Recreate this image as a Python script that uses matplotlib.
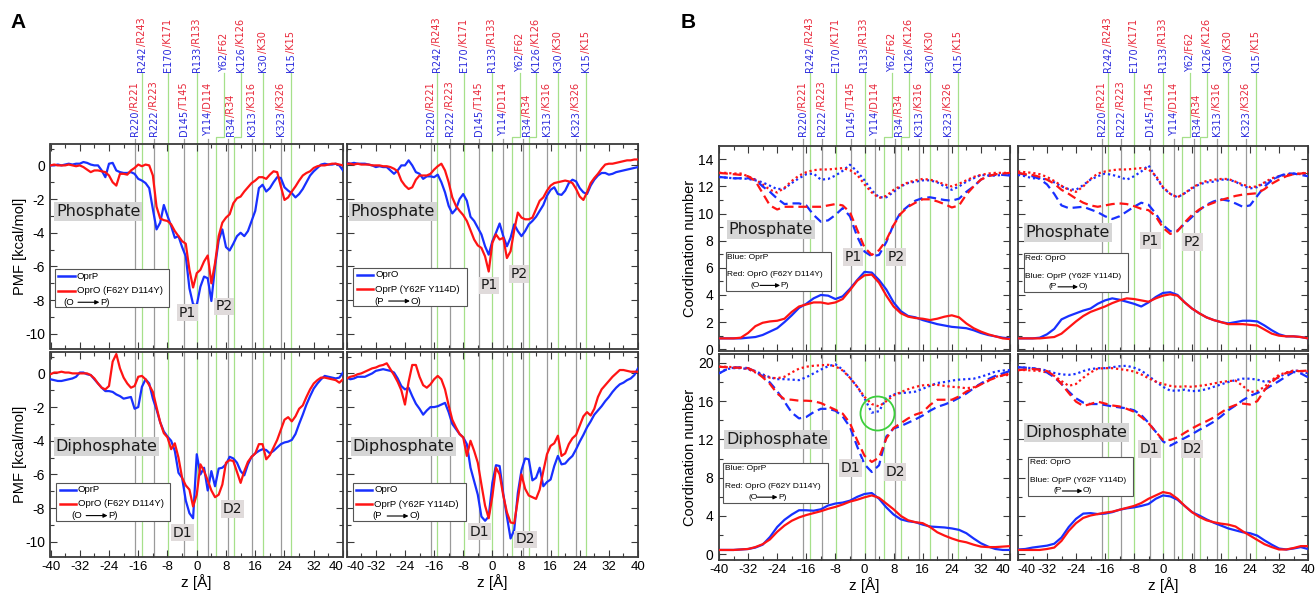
import matplotlib as mpl

mpl.use("Agg")

import matplotlib.pyplot as plt
import numpy as np
from matplotlib.patches import Rectangle
from matplotlib.ticker import MultipleLocator
from matplotlib.transforms import blended_transform_factory

FIG_W, FIG_H = 1315, 594

BLUE = "#1830ff"
RED = "#ff1414"
LABEL_BLUE = "#2b2bdd"
LABEL_RED = "#e8283a"
GREY_LINE = "#9a9a9a"
GREEN_LINE = "#a6e08a"

Z_PMF = np.arange(-40, 41, 1)
Z_CN = np.arange(-40, 41, 2)

GREY_Z = [-16.9, -11.6, -3.6, 3.0, 8.5, 15.0, 23.0]
GREY_LABEL_Z = [-16.9, -11.6, -3.6, 3.0, 9.4, 15.0, 23.0]
GREY_NAMES = ["R220/R221", "R222/R223", "D145/T145", "Y114/D114", "R34/R34", "K313/K316", "K323/K326"]
GREEN_Z = [-15.1, -7.9, 0.0, 5.3, 10.1, 18.0, 25.7]
GREEN_LABEL_Z = [-15.1, -7.9, 0.0, 7.5, 12.1, 18.0, 25.7]
GREEN_NAMES = ["R242/R243", "E170/K171", "R133/R133", "Y62/F62", "K126/K126", "K30/K30", "K15/K15"]

# ---- panel A: PMF [kcal/mol], z = -40..40 step 1
PMF_AL_TOP_BLUE = [
    0.0, 0.0, 0.05, 0.0, 0.05, 0.1, 0.05, 0.1, 0.1, 0.2, 0.15, 0.05, 0.0, 0.0,
    -0.3, -0.7, 0.1, 0.15, -0.3, -0.4, -0.45, -0.45, -0.4, -0.5, -0.8, -0.9, -1.05, -1.35,
    -2.6, -3.8, -3.4, -2.35, -3.0, -3.6, -4.3, -4.2, -4.85, -5.4, -7.3, -8.25, -8.3, -7.2,
    -6.6, -6.7, -8.05, -6.0, -4.45, -3.8, -4.85, -5.05, -4.65, -4.2, -4.0, -4.2, -3.9, -3.3,
    -2.7, -1.35, -1.15, -1.55, -1.35, -1.0, -0.7, -0.75, -1.3, -1.5, -1.65, -1.9, -1.7, -1.4,
    -1.0, -0.6, -0.35, -0.15, 0.05, 0.1, 0.05, 0.05, 0.1, 0.0, -0.3,
]
PMF_AL_TOP_RED = [
    0.0, 0.05, 0.0, 0.0, 0.0, 0.05, 0.0, -0.05, 0.0, -0.1, -0.25, -0.4, -0.3, -0.3,
    -0.35, -0.4, -0.6, -1.0, -1.2, -0.5, -0.5, -0.55, -0.3, -0.15, 0.05, -0.05, 0.05, 0.0,
    -0.6, -2.45, -3.15, -3.25, -3.3, -3.5, -3.9, -4.2, -4.5, -4.65, -6.2, -7.25, -6.4, -6.2,
    -5.7, -5.35, -7.0, -5.8, -4.2, -3.4, -3.1, -2.9, -2.25, -1.95, -1.85, -1.55, -1.3, -1.05,
    -0.9, -0.7, -0.7, -0.8, -0.55, -0.35, -0.4, -1.25, -2.05, -1.9, -1.55, -1.25, -0.9, -0.6,
    -0.45, -0.35, -0.15, -0.05, 0.0, 0.0, 0.05, 0.1, 0.1, 0.05, 0.0,
]
PMF_AR_TOP_BLUE = [
    0.15, 0.1, 0.15, 0.1, 0.1, 0.1, 0.05, 0.0, -0.1, -0.05, -0.1, -0.1, -0.3, -0.5,
    -0.3, 0.0, 0.0, 0.3, 0.0, -0.4, -0.5, -0.8, -0.65, -0.65, -0.7, -0.55, -1.0, -1.6,
    -2.4, -2.85, -2.6, -2.0, -1.7, -2.1, -3.05, -3.3, -3.7, -4.1, -4.8, -5.3, -4.5, -4.0,
    -3.45, -4.2, -4.8, -4.3, -3.5, -3.9, -4.2, -3.9, -3.5, -3.3, -3.05, -2.7, -2.35, -1.8,
    -1.45, -1.3, -1.7, -1.75, -1.5, -1.05, -0.85, -0.95, -1.35, -1.6, -1.7, -1.2, -0.85, -0.6,
    -0.45, -0.45, -0.55, -0.5, -0.4, -0.35, -0.3, -0.25, -0.2, -0.15, -0.1,
]
PMF_AR_TOP_RED = [
    0.1, 0.1, 0.05, 0.1, 0.05, 0.05, 0.05, 0.0, 0.0, 0.0, -0.05, -0.05, -0.1, -0.2,
    -0.35, -0.9, -1.2, -1.4, -1.3, -0.85, -0.6, -0.6, -0.6, -0.5, -0.25, -0.05, 0.1, -0.3,
    -1.0, -1.9, -2.4, -2.7, -2.95, -3.3, -3.85, -4.4, -4.75, -4.9, -5.4, -6.3, -4.6, -4.1,
    -4.4, -4.3, -5.5, -5.1, -3.85, -2.8, -3.1, -3.2, -3.2, -3.1, -2.6, -2.1, -1.9, -1.5,
    -1.2, -1.05, -1.0, -0.95, -0.9, -0.95, -1.05, -1.4, -1.85, -2.05, -1.6, -1.05, -0.75, -0.5,
    -0.2, 0.05, 0.1, 0.1, 0.15, 0.2, 0.25, 0.3, 0.3, 0.35, 0.35,
]
PMF_AL_BOT_BLUE = [
    -0.35, -0.4, -0.45, -0.45, -0.4, -0.35, -0.3, -0.2, 0.05, 0.05, -0.05, -0.1, -0.35, -0.6,
    -0.85, -1.05, -1.05, -1.1, -1.25, -1.35, -1.5, -1.45, -1.4, -2.1, -2.0, -0.8, -0.35, -0.6,
    -1.5, -2.15, -2.9, -3.45, -3.75, -4.0, -4.6, -5.9, -6.2, -7.55, -8.3, -8.6, -4.8, -6.0,
    -5.6, -6.95, -5.8, -6.7, -5.65, -5.6, -5.4, -4.95, -5.05, -5.3, -5.8, -6.05, -5.4, -4.95,
    -4.75, -4.6, -4.5, -4.55, -4.75, -4.6, -4.4, -4.2, -4.1, -4.05, -3.95, -3.6, -3.0, -2.45,
    -1.85, -1.35, -0.9, -0.6, -0.35, -0.15, -0.2, -0.25, -0.3, -0.25, 0.05,
]
PMF_AL_BOT_RED = [
    -0.05, 0.05, 0.05, 0.1, 0.05, 0.05, 0.0, 0.0, 0.0, 0.0, 0.0, -0.1, -0.3, -0.6,
    -0.85, -0.95, -0.75, 0.7, 1.15, 0.3, -0.25, -0.6, -0.85, -0.75, -0.2, -0.15, -0.35, -0.7,
    -1.1, -2.0, -2.9, -3.55, -3.8, -4.5, -4.15, -5.0, -6.2, -6.65, -6.9, -7.9, -7.2, -5.4,
    -5.8, -6.35, -6.95, -7.35, -7.2, -6.6, -5.3, -5.15, -5.2, -5.85, -6.5, -5.8, -5.25, -4.95,
    -4.75, -4.2, -4.2, -5.1, -4.85, -4.4, -3.95, -3.35, -2.75, -2.6, -2.85, -2.55, -2.1, -1.9,
    -1.4, -0.95, -0.6, -0.4, -0.25, -0.25, -0.3, -0.35, -0.4, -0.55, -0.35,
]
PMF_AR_BOT_BLUE = [
    -0.25, -0.35, -0.3, -0.2, -0.2, -0.2, -0.1, 0.0, 0.15, 0.2, 0.25, 0.2, 0.15, 0.05,
    -0.3, -0.75, -0.95, -0.85, -1.35, -1.8, -2.1, -2.45, -2.2, -2.0, -2.0, -1.95, -1.85, -1.75,
    -2.3, -3.0, -3.3, -3.6, -3.8, -4.2, -5.6, -6.4, -7.2, -8.5, -8.75, -8.5, -6.5, -5.45,
    -5.5, -7.15, -8.5, -9.8, -9.3, -7.1, -5.75, -5.05, -5.1, -6.35, -6.2, -5.6, -6.7, -6.45,
    -6.3, -5.5, -4.9, -5.4, -5.35, -5.1, -4.9, -4.5, -4.05, -3.65, -3.2, -2.85, -2.45, -2.2,
    -1.95, -1.65, -1.4, -1.1, -0.85, -0.65, -0.55, -0.4, -0.3, -0.1, 0.3,
]
PMF_AR_BOT_RED = [
    -0.3, -0.2, -0.15, -0.05, 0.0, 0.1, 0.2, 0.3, 0.35, 0.45, 0.5, 0.6, 0.25, -0.1,
    -0.5, -1.0, -1.85, -0.5, 0.5, 0.5, -0.2, -0.7, -0.85, -0.65, -0.35, -0.15, -0.35, -0.95,
    -1.9, -2.75, -3.2, -3.6, -3.8, -4.9, -4.0, -4.6, -5.3, -6.6, -7.85, -8.6, -7.3, -5.6,
    -6.0, -7.25, -8.25, -8.85, -8.9, -7.5, -6.0, -6.85, -7.25, -7.35, -7.45, -6.9, -5.8, -4.8,
    -4.3, -4.15, -3.7, -4.9, -4.75, -4.2, -3.85, -3.65, -3.1, -2.55, -2.3, -2.5, -2.1, -1.4,
    -0.95, -0.7, -0.45, -0.2, 0.0, 0.2, 0.2, 0.15, 0.1, 0.1, 0.1,
]

# ---- panel B: coordination numbers, z = -40..40 step 2
CN_BL_TOP_BLUE_SOLID = [0.8, 0.8, 0.8, 0.8, 0.85, 0.9, 1.05, 1.3, 1.55, 2.0, 2.5, 3.05, 3.35, 3.75, 4.0, 3.95, 3.7, 3.9, 4.45, 5.1, 5.7, 5.65, 5.1, 4.4, 3.45, 2.8, 2.45, 2.35, 2.15, 2.0, 1.85, 1.75, 1.65, 1.6, 1.55, 1.4, 1.2, 1.05, 0.95, 0.85, 0.8]
CN_BL_TOP_RED_SOLID = [0.8, 0.8, 0.8, 0.85, 1.2, 1.7, 1.95, 2.05, 2.1, 2.25, 2.75, 3.15, 3.3, 3.45, 3.45, 3.35, 3.45, 3.7, 4.35, 5.05, 5.45, 5.5, 4.9, 3.95, 3.15, 2.65, 2.4, 2.3, 2.25, 2.15, 2.25, 2.4, 2.5, 2.35, 1.9, 1.55, 1.3, 1.1, 0.95, 0.8, 0.75]
CN_BL_TOP_BLUE_DASH = [12.7, 12.65, 12.6, 12.6, 12.6, 12.5, 12.0, 11.6, 11.1, 10.7, 10.75, 10.75, 10.6, 9.9, 9.4, 9.5, 9.9, 10.4, 9.8, 8.3, 7.2, 6.85, 6.95, 7.9, 9.2, 10.1, 10.55, 10.95, 11.15, 11.2, 11.1, 11.0, 10.95, 11.1, 11.6, 12.0, 12.5, 12.8, 12.85, 12.85, 12.8]
CN_BL_TOP_RED_DASH = [13.0, 12.95, 12.9, 12.85, 12.75, 12.4, 11.5, 10.6, 10.3, 10.5, 10.5, 10.5, 10.5, 10.5, 10.5, 10.6, 10.7, 10.6, 10.1, 8.8, 7.5, 6.95, 7.3, 8.05, 9.15, 10.0, 10.5, 10.8, 11.05, 11.05, 10.9, 10.7, 10.45, 10.6, 11.4, 12.0, 12.5, 12.75, 12.9, 12.95, 13.0]
CN_BL_TOP_BLUE_DOT = [12.7, 12.65, 12.6, 12.6, 12.55, 12.45, 12.3, 12.05, 11.8, 11.85, 12.25, 12.6, 12.9, 12.95, 12.5, 12.55, 12.8, 13.15, 13.6, 13.1, 12.45, 11.7, 11.2, 11.2, 11.6, 12.0, 12.25, 12.35, 12.45, 12.45, 12.3, 12.0, 11.75, 12.0, 12.35, 12.6, 12.85, 12.8, 12.8, 12.85, 12.85]
CN_BL_TOP_RED_DOT = [13.0, 13.0, 12.95, 12.95, 12.75, 12.5, 12.15, 11.75, 11.55, 11.9, 12.4, 12.8, 13.05, 13.2, 13.25, 13.25, 13.3, 13.35, 13.2, 12.85, 12.15, 11.55, 11.15, 11.3, 11.75, 12.05, 12.3, 12.45, 12.55, 12.5, 12.35, 12.15, 12.0, 12.2, 12.45, 12.7, 12.85, 12.95, 13.0, 13.0, 13.0]

CN_BR_TOP_RED_SOLID = [0.8, 0.8, 0.8, 0.8, 0.85, 0.9, 1.15, 1.6, 2.05, 2.45, 2.75, 2.95, 3.15, 3.4, 3.6, 3.75, 3.7, 3.6, 3.5, 3.75, 3.95, 4.05, 3.95, 3.45, 3.0, 2.65, 2.35, 2.15, 2.0, 1.85, 1.85, 1.85, 1.8, 1.75, 1.45, 1.15, 1.0, 0.95, 0.95, 0.9, 0.8]
CN_BR_TOP_BLUE_SOLID = [0.8, 0.8, 0.8, 0.85, 1.1, 1.5, 2.2, 2.45, 2.65, 2.85, 3.0, 3.35, 3.6, 3.75, 3.65, 3.5, 3.35, 3.15, 3.45, 3.85, 4.15, 4.2, 4.0, 3.45, 3.0, 2.65, 2.35, 2.15, 2.0, 1.9, 2.0, 2.1, 2.1, 2.05, 1.75, 1.4, 1.1, 0.95, 0.95, 0.9, 0.8]
CN_BR_TOP_RED_DASH = [13.0, 12.9, 12.85, 12.7, 12.5, 12.2, 11.75, 11.45, 11.1, 10.8, 10.6, 10.5, 10.6, 10.7, 10.75, 10.7, 10.55, 10.35, 10.25, 9.8, 8.95, 8.5, 8.7, 9.35, 9.9, 10.3, 10.6, 10.8, 11.0, 11.15, 11.3, 11.4, 11.45, 11.5, 11.8, 12.2, 12.5, 12.75, 12.9, 12.95, 13.0]
CN_BR_TOP_BLUE_DASH = [13.0, 12.85, 12.75, 12.55, 12.15, 11.45, 10.6, 10.4, 10.45, 10.5, 10.3, 10.1, 9.8, 9.6, 9.8, 10.15, 10.5, 10.8, 10.65, 10.0, 9.15, 8.7, 8.75, 9.25, 9.75, 10.25, 10.65, 10.9, 11.05, 10.95, 10.75, 10.5, 10.6, 11.3, 12.0, 12.45, 12.75, 12.95, 12.95, 12.85, 12.75]
CN_BR_TOP_BLUE_DOT = [12.85, 12.75, 12.6, 12.6, 12.5, 12.3, 12.0, 11.8, 11.75, 12.1, 12.5, 12.75, 12.95, 12.85, 12.7, 12.5, 12.75, 13.1, 13.55, 12.7, 11.9, 11.45, 11.2, 11.5, 11.85, 12.15, 12.3, 12.35, 12.5, 12.5, 12.35, 12.05, 11.85, 11.95, 12.25, 12.5, 12.75, 12.9, 12.95, 12.9, 12.8]
CN_BR_TOP_RED_DOT = [13.1, 13.05, 13.0, 12.9, 12.7, 12.4, 12.05, 11.75, 11.6, 12.0, 12.55, 12.95, 13.1, 13.2, 13.25, 13.25, 13.3, 13.35, 13.25, 12.8, 11.95, 11.45, 11.2, 11.5, 11.9, 12.2, 12.4, 12.5, 12.55, 12.55, 12.35, 12.15, 11.95, 12.0, 12.3, 12.6, 12.75, 12.85, 12.9, 12.95, 13.05]

CN_BL_BOT_BLUE_SOLID = [0.45, 0.45, 0.45, 0.5, 0.55, 0.7, 1.0, 1.8, 2.85, 3.6, 4.15, 4.6, 4.6, 4.55, 4.7, 5.1, 5.3, 5.4, 5.6, 6.0, 6.3, 6.4, 5.8, 4.9, 4.15, 3.65, 3.45, 3.35, 3.1, 2.9, 2.85, 2.8, 2.7, 2.55, 2.2, 1.65, 1.15, 0.8, 0.55, 0.45, 0.45]
CN_BL_BOT_RED_SOLID = [0.45, 0.45, 0.45, 0.5, 0.55, 0.75, 1.05, 1.55, 2.35, 3.0, 3.5, 3.85, 4.1, 4.3, 4.5, 4.75, 4.95, 5.2, 5.5, 5.7, 5.95, 6.15, 5.9, 5.3, 4.7, 4.0, 3.55, 3.35, 3.25, 2.85, 2.3, 1.95, 1.65, 1.4, 1.25, 1.0, 0.8, 0.75, 0.75, 0.8, 0.85]
CN_BL_BOT_BLUE_DASH = [18.9, 19.3, 19.5, 19.55, 19.45, 19.1, 18.6, 17.95, 17.05, 15.95, 14.8, 14.2, 14.35, 14.85, 15.2, 15.2, 15.0, 14.4, 13.3, 11.25, 9.4, 8.6, 9.3, 12.3, 13.15, 13.4, 13.75, 14.1, 14.5, 15.0, 15.4, 15.65, 15.95, 16.35, 16.8, 17.35, 17.85, 18.3, 18.65, 18.9, 19.15]
CN_BL_BOT_RED_DASH = [19.6, 19.55, 19.5, 19.5, 19.45, 19.1, 18.5, 17.8, 16.8, 16.2, 16.15, 16.05, 16.05, 16.0, 15.8, 15.45, 15.1, 14.7, 13.7, 11.9, 10.3, 9.65, 10.1, 12.1, 13.2, 13.7, 14.2, 14.6, 14.85, 15.6, 16.15, 16.15, 16.15, 16.5, 17.0, 17.35, 17.75, 18.15, 18.45, 18.7, 18.9]
CN_BL_BOT_BLUE_DOT = [18.9, 19.35, 19.45, 19.45, 19.35, 19.15, 18.8, 18.5, 18.3, 18.3, 18.25, 18.2, 18.5, 18.9, 19.3, 19.65, 19.85, 19.3, 18.45, 17.5, 16.3, 14.8, 14.95, 16.3, 16.7, 16.85, 16.9, 17.0, 17.3, 17.6, 17.9, 18.0, 18.15, 18.25, 18.3, 18.35, 18.55, 18.8, 19.1, 19.2, 19.25]
CN_BL_BOT_RED_DOT = [19.6, 19.6, 19.55, 19.5, 19.35, 19.0, 18.7, 18.45, 18.4, 18.55, 19.0, 19.4, 19.6, 19.7, 19.75, 19.8, 19.65, 19.2, 18.45, 17.5, 16.45, 15.7, 15.45, 16.0, 16.6, 16.95, 17.25, 17.5, 17.65, 17.7, 17.7, 17.6, 17.5, 17.45, 17.35, 17.45, 17.8, 18.1, 18.55, 18.7, 18.75]

CN_BR_BOT_RED_SOLID = [0.45, 0.45, 0.45, 0.45, 0.55, 0.7, 1.4, 2.45, 3.25, 3.8, 4.05, 4.2, 4.35, 4.45, 4.65, 4.85, 5.05, 5.35, 5.8, 6.15, 6.5, 6.35, 5.8, 5.05, 4.4, 3.9, 3.55, 3.35, 3.2, 3.1, 2.9, 2.4, 1.95, 1.5, 1.05, 0.75, 0.5, 0.5, 0.65, 0.85, 0.85]
CN_BR_BOT_BLUE_SOLID = [0.5, 0.55, 0.7, 0.8, 0.9, 1.1, 1.75, 2.85, 3.7, 4.25, 4.3, 4.2, 4.25, 4.4, 4.65, 4.8, 4.9, 5.05, 5.25, 5.8, 6.15, 6.05, 5.7, 5.05, 4.4, 4.05, 3.65, 3.3, 3.0, 2.7, 2.5, 2.3, 2.2, 1.95, 1.45, 1.0, 0.6, 0.5, 0.6, 0.75, 0.55]
CN_BR_BOT_RED_DASH = [19.25, 19.3, 19.35, 19.3, 19.15, 18.65, 17.8, 16.85, 15.95, 15.5, 15.7, 15.95, 15.75, 15.55, 15.45, 15.2, 14.9, 14.35, 13.7, 12.8, 11.95, 11.95, 12.2, 12.7, 13.15, 13.55, 13.9, 14.3, 14.8, 15.3, 15.6, 15.75, 15.65, 16.0, 17.15, 18.0, 18.6, 18.95, 19.1, 19.15, 19.2]
CN_BR_BOT_BLUE_DASH = [19.55, 19.5, 19.45, 19.3, 19.0, 18.5, 17.8, 17.0, 16.3, 15.85, 15.7, 15.7, 15.6, 15.45, 15.35, 15.25, 15.05, 14.55, 13.75, 12.8, 11.8, 11.35, 11.75, 12.15, 12.55, 13.0, 13.4, 13.85, 14.4, 15.05, 15.55, 16.1, 16.55, 16.85, 17.2, 17.65, 18.1, 18.6, 19.05, 18.9, 18.5]
CN_BR_BOT_BLUE_DOT = [19.55, 19.5, 19.45, 19.35, 19.2, 18.95, 18.8, 18.75, 18.85, 19.15, 19.35, 19.45, 19.45, 19.55, 19.65, 19.7, 19.5, 19.2, 18.65, 18.05, 17.5, 17.1, 17.1, 17.2, 17.05, 17.1, 17.25, 17.5, 17.75, 18.0, 18.2, 18.35, 18.35, 18.25, 18.05, 18.1, 18.5, 18.95, 19.2, 19.15, 18.9]
CN_BR_BOT_RED_DOT = [19.25, 19.25, 19.2, 19.15, 19.0, 18.65, 18.1, 17.6, 17.8, 18.45, 19.0, 19.4, 19.45, 19.45, 19.35, 19.25, 19.1, 18.8, 18.4, 18.05, 17.8, 17.6, 17.5, 17.55, 17.5, 17.6, 17.7, 17.85, 18.0, 18.1, 18.15, 17.6, 16.95, 17.05, 17.5, 18.2, 18.75, 19.0, 19.2, 19.15, 19.1]


def configure_matplotlib() -> None:
    mpl.rcParams.update(
        {
            "font.family": ["Liberation Sans", "DejaVu Sans"],
            "axes.unicode_minus": False,
            "axes.linewidth": 1.3,
            "axes.edgecolor": "#3a3a3a",
            "xtick.direction": "in",
            "ytick.direction": "in",
            "xtick.top": True,
            "ytick.right": True,
            "xtick.major.size": 5,
            "ytick.major.size": 5,
            "xtick.minor.size": 3,
            "ytick.minor.size": 3,
            "xtick.minor.visible": True,
            "ytick.minor.visible": True,
            "xtick.labelsize": 9.5,
            "ytick.labelsize": 10,
        }
    )


def add_axes_px(fig, left, top, right, bottom):
    return fig.add_axes([left / FIG_W, 1 - bottom / FIG_H, (right - left) / FIG_W, (bottom - top) / FIG_H])


def style_axes(ax, ylim, ymajor, yminor, show_y, show_x, column):
    ax.set_xlim(-40, 40)
    ax.set_ylim(*ylim)
    ax.set_xticks(np.arange(-40, 41, 8))
    ax.xaxis.set_minor_locator(MultipleLocator(4))
    ax.yaxis.set_major_locator(MultipleLocator(ymajor))
    ax.yaxis.set_minor_locator(MultipleLocator(yminor))
    ax.tick_params(which="both", color="#3a3a3a", width=0.8)
    ax.tick_params(axis="x", pad=3)
    ax.tick_params(axis="y", pad=4)
    if not show_y:
        ax.set_yticklabels([])
    if not show_x:
        ax.set_xticklabels([])
    else:
        ax.set_xlabel("z [Å]", fontsize=11)
        ax.xaxis.set_label_coords(0.5, -0.085)
        ticks = ax.xaxis.get_major_ticks()
        # neighbouring panels share the edge: push the end labels apart
        if column == "left":
            ticks[-1].label1.set_horizontalalignment("right")
        else:
            ticks[0].label1.set_horizontalalignment("left")
            ticks[0].label1.set_fontsize(9)
    for z in GREY_Z:
        ax.axvline(z, color=GREY_LINE, lw=0.9, zorder=1)
    for z in GREEN_Z:
        ax.axvline(z, color=GREEN_LINE, lw=0.9, zorder=1)


def two_colour_label(ax, trans, z, y, name):
    first, second = name.split("/")
    t = ax.text(z, y, first, transform=trans, rotation=90, ha="center", va="bottom",
                color=LABEL_BLUE, fontsize=7, family="DejaVu Sans", clip_on=False)
    ax.annotate("/" + second, xy=(0.5, 1.0), xycoords=t, rotation=90, ha="center", va="bottom",
                color=LABEL_RED, fontsize=7, family="DejaVu Sans", annotation_clip=False)


def draw_residue_labels(fig, ax):
    trans = blended_transform_factory(ax.transData, fig.transFigure)
    top = ax.get_position().y1
    y_upper = 1 - 72 / FIG_H
    y_lower = 1 - 136 / FIG_H
    y_bend = 1 - 137 / FIG_H
    y_tick = 1 - 138.5 / FIG_H
    for name, z, zl in zip(GREY_NAMES, GREY_Z, GREY_LABEL_Z):
        ax.plot([z, z], [y_tick, top], transform=trans, color=GREY_LINE, lw=0.9, clip_on=False)
        two_colour_label(ax, trans, zl, y_lower, name)
    for name, z, zl in zip(GREEN_NAMES, GREEN_Z, GREEN_LABEL_Z):
        ax.plot([zl, zl, z, z], [y_upper - 0.002, y_bend, y_bend, top], transform=trans,
                color=GREEN_LINE, lw=0.9, clip_on=False)
        two_colour_label(ax, trans, zl, y_upper, name)


def tag(ax, x, y, text, size=10, fc="#e0dbdb", ha="center"):
    ax.text(x, y, text, ha=ha, va="center", fontsize=size, family="DejaVu Sans", color="#1a1a1a",
            zorder=6, bbox=dict(boxstyle="square,pad=0.12", fc=fc, ec="none"))


def arrow_row(ax, x0, y, left, right, size):
    ax.text(x0, y, left, transform=ax.transAxes, ha="left", va="center", fontsize=size, zorder=7)
    ax.annotate("", xy=(x0 + 0.123, y), xytext=(x0 + 0.05, y), xycoords="axes fraction",
                arrowprops=dict(arrowstyle="-|>", color="black", lw=0.8, mutation_scale=6,
                                shrinkA=0, shrinkB=0), zorder=7)
    ax.text(x0 + 0.125, y, right, transform=ax.transAxes, ha="left", va="center", fontsize=size, zorder=7)


def pmf_legend(ax, box_x, box_top, blue_name, red_name, arrow_x, ends):
    ax.add_patch(Rectangle((box_x, box_top - 0.185), 0.39, 0.185, transform=ax.transAxes,
                           fc="white", ec="#555555", lw=0.8, zorder=6))
    rows = [(box_top - 0.033, BLUE, blue_name), (box_top - 0.103, RED, red_name)]
    for y, colour, name in rows:
        ax.plot([box_x + 0.012, box_x + 0.068], [y, y], transform=ax.transAxes, color=colour, lw=1.8, zorder=7)
        ax.text(box_x + 0.075, y, name, transform=ax.transAxes, ha="left", va="center", fontsize=6.8, zorder=7)
    arrow_row(ax, arrow_x, box_top - 0.16, "(" + ends[0], ends[1] + ")", 6.8)


def cn_legend(ax, box_x, box_top, first, second, ends):
    ax.add_patch(Rectangle((box_x, box_top - 0.19), 0.36, 0.19, transform=ax.transAxes,
                           fc="white", ec="#555555", lw=0.8, zorder=6))
    ax.text(box_x + 0.004, box_top - 0.027, first, transform=ax.transAxes, ha="left", va="center", fontsize=6, zorder=7)
    ax.text(box_x + 0.004, box_top - 0.112, second, transform=ax.transAxes, ha="left", va="center", fontsize=6, zorder=7)
    x0 = box_x + 0.085
    ax.text(x0, box_top - 0.164, "(" + ends[0], transform=ax.transAxes, ha="left", va="center", fontsize=6, zorder=7)
    ax.annotate("", xy=(box_x + 0.186, box_top - 0.164), xytext=(box_x + 0.117, box_top - 0.164),
                xycoords="axes fraction",
                arrowprops=dict(arrowstyle="-|>", color="black", lw=0.8, mutation_scale=6, shrinkA=0, shrinkB=0),
                zorder=7)
    ax.text(box_x + 0.188, box_top - 0.164, ends[1] + ")", transform=ax.transAxes, ha="left", va="center",
            fontsize=6, zorder=7)


def draw_pmf(ax, blue, red):
    ax.plot(Z_PMF, blue, color=BLUE, lw=1.6, zorder=3)
    ax.plot(Z_PMF, red, color=RED, lw=1.6, zorder=3)


def draw_cn(ax, curves):
    styles = {"solid": "-", "dash": (0, (4.0, 2.2)), "dot": (0, (1.0, 1.3))}
    for colour, kind, values in curves:
        ax.plot(Z_CN, values, color=colour, lw=1.6, ls=styles[kind], zorder=3)


def make_figure(path):
    configure_matplotlib()
    fig = plt.figure(figsize=(FIG_W / 100, FIG_H / 100), dpi=100)

    pmf_ylim = (-10.9, 1.27)
    ax_al_t = add_axes_px(fig, 50.5, 144, 343, 349)
    ax_ar_t = add_axes_px(fig, 346.7, 144, 638, 349)
    ax_al_b = add_axes_px(fig, 50.5, 352, 343, 557)
    ax_ar_b = add_axes_px(fig, 346.7, 352, 638, 557)
    ax_bl_t = add_axes_px(fig, 719, 146, 1010, 351)
    ax_br_t = add_axes_px(fig, 1018, 146, 1308, 351)
    ax_bl_b = add_axes_px(fig, 719, 354, 1010, 560)
    ax_br_b = add_axes_px(fig, 1018, 354, 1308, 560)

    style_axes(ax_al_t, pmf_ylim, 2, 1, True, False, "left")
    style_axes(ax_ar_t, pmf_ylim, 2, 1, False, False, "right")
    style_axes(ax_al_b, pmf_ylim, 2, 1, True, True, "left")
    style_axes(ax_ar_b, pmf_ylim, 2, 1, False, True, "right")
    style_axes(ax_bl_t, (-0.13, 14.98), 2, 1, True, False, "left")
    style_axes(ax_br_t, (-0.13, 14.98), 2, 1, False, False, "right")
    style_axes(ax_bl_b, (-0.6, 20.93), 4, 2, True, True, "left")
    style_axes(ax_br_b, (-0.6, 20.93), 4, 2, False, True, "right")

    for ax in (ax_al_t, ax_al_b):
        ax.set_ylabel("PMF [kcal/mol]", fontsize=10.5)
        ax.yaxis.set_label_coords(-0.082, 0.5)
    for ax in (ax_bl_t, ax_bl_b):
        ax.set_ylabel("Coordination number", fontsize=10.5)
        ax.yaxis.set_label_coords(-0.076, 0.5)

    for ax in (ax_al_t, ax_ar_t, ax_bl_t, ax_br_t):
        draw_residue_labels(fig, ax)

    # panel A
    draw_pmf(ax_al_t, PMF_AL_TOP_BLUE, PMF_AL_TOP_RED)
    draw_pmf(ax_ar_t, PMF_AR_TOP_BLUE, PMF_AR_TOP_RED)
    draw_pmf(ax_al_b, PMF_AL_BOT_BLUE, PMF_AL_BOT_RED)
    draw_pmf(ax_ar_b, PMF_AR_BOT_BLUE, PMF_AR_BOT_RED)

    tag(ax_al_t, -38.5, -2.72, "Phosphate", size=11.5, fc="#d6d6d6", ha="left")
    tag(ax_ar_t, -38.9, -2.72, "Phosphate", size=11.5, fc="#d6d6d6", ha="left")
    tag(ax_al_b, -38.6, -4.36, "Diphosphate", size=11.5, fc="#d6d6d6", ha="left")
    tag(ax_ar_b, -38.4, -4.36, "Diphosphate", size=11.5, fc="#d6d6d6", ha="left")
    tag(ax_al_t, -2.6, -8.74, "P1")
    tag(ax_al_t, 7.4, -8.37, "P2")
    tag(ax_ar_t, -0.9, -7.13, "P1")
    tag(ax_ar_t, 7.3, -6.44, "P2")
    tag(ax_al_b, -3.9, -9.46, "D1")
    tag(ax_al_b, 9.7, -8.06, "D2")
    tag(ax_ar_b, -3.65, -9.4, "D1")
    tag(ax_ar_b, 9.05, -9.86, "D2")

    pmf_legend(ax_al_t, 0.015, 0.388, "OprP", "OprO (F62Y D114Y)", 0.044, ("O", "P"))
    pmf_legend(ax_ar_t, 0.023, 0.394, "OprO", "OprP (Y62F Y114D)", 0.094, ("P", "O"))
    pmf_legend(ax_al_b, 0.019, 0.362, "OprP", "OprO (F62Y D114Y)", 0.072, ("O", "P"))
    pmf_legend(ax_ar_b, 0.020, 0.360, "OprO", "OprP (Y62F Y114D)", 0.089, ("P", "O"))

    # panel B
    draw_cn(ax_bl_t, [
        (BLUE, "dot", CN_BL_TOP_BLUE_DOT), (RED, "dot", CN_BL_TOP_RED_DOT),
        (BLUE, "dash", CN_BL_TOP_BLUE_DASH), (RED, "dash", CN_BL_TOP_RED_DASH),
        (BLUE, "solid", CN_BL_TOP_BLUE_SOLID), (RED, "solid", CN_BL_TOP_RED_SOLID),
    ])
    draw_cn(ax_br_t, [
        (BLUE, "dot", CN_BR_TOP_BLUE_DOT), (RED, "dot", CN_BR_TOP_RED_DOT),
        (BLUE, "dash", CN_BR_TOP_BLUE_DASH), (RED, "dash", CN_BR_TOP_RED_DASH),
        (BLUE, "solid", CN_BR_TOP_BLUE_SOLID), (RED, "solid", CN_BR_TOP_RED_SOLID),
    ])
    draw_cn(ax_bl_b, [
        (BLUE, "dot", CN_BL_BOT_BLUE_DOT), (RED, "dot", CN_BL_BOT_RED_DOT),
        (BLUE, "dash", CN_BL_BOT_BLUE_DASH), (RED, "dash", CN_BL_BOT_RED_DASH),
        (BLUE, "solid", CN_BL_BOT_BLUE_SOLID), (RED, "solid", CN_BL_BOT_RED_SOLID),
    ])
    draw_cn(ax_br_b, [
        (BLUE, "dot", CN_BR_BOT_BLUE_DOT), (RED, "dot", CN_BR_BOT_RED_DOT),
        (BLUE, "dash", CN_BR_BOT_BLUE_DASH), (RED, "dash", CN_BR_BOT_RED_DASH),
        (BLUE, "solid", CN_BR_BOT_BLUE_SOLID), (RED, "solid", CN_BR_BOT_RED_SOLID),
    ])

    tag(ax_bl_t, -37.4, 8.8, "Phosphate", size=11.5, fc="#d6d6d6", ha="left")
    tag(ax_br_t, -37.9, 8.6, "Phosphate", size=11.5, fc="#d6d6d6", ha="left")
    tag(ax_bl_b, -38.1, 12.0, "Diphosphate", size=11.5, fc="#d6d6d6", ha="left")
    tag(ax_br_b, -37.9, 12.7, "Diphosphate", size=11.5, fc="#d6d6d6", ha="left")
    tag(ax_bl_t, -3.2, 6.8, "P1")
    tag(ax_bl_t, 8.7, 6.8, "P2")
    tag(ax_br_t, -3.4, 8.0, "P1")
    tag(ax_br_t, 8.1, 7.9, "P2")
    tag(ax_bl_b, -3.8, 9.0, "D1")
    tag(ax_bl_b, 8.4, 8.6, "D2")
    tag(ax_br_b, -3.7, 11.0, "D1")
    tag(ax_br_b, 8.0, 11.0, "D2")

    cn_legend(ax_bl_t, 0.024, 0.484, "Blue: OprP", "Red: OprO (F62Y D114Y)", ("O", "P"))
    cn_legend(ax_br_t, 0.021, 0.477, "Red: OprO", "Blue: OprP (Y62F Y114D)", ("P", "O"))
    cn_legend(ax_bl_b, 0.015, 0.469, "Blue: OprP", "Red: OprO (F62Y D114Y)", ("O", "P"))
    cn_legend(ax_br_b, 0.036, 0.499, "Red: OprO", "Blue: OprP (Y62F Y114D)", ("P", "O"))

    ax_bl_b.plot([3.3], [14.8], marker="o", ms=24.5, mfc="none", mec="#3ccf3c", mew=1.3, zorder=5)

    fig.text(18 / FIG_W, 1 - 22 / FIG_H, "A", fontsize=15, fontweight="bold", ha="center", va="center")
    fig.text(688 / FIG_W, 1 - 22 / FIG_H, "B", fontsize=15, fontweight="bold", ha="center", va="center")

    fig.savefig(path, dpi=100)
    plt.close(fig)


def main() -> None:
    make_figure("out.png")


if __name__ == "__main__":
    main()
